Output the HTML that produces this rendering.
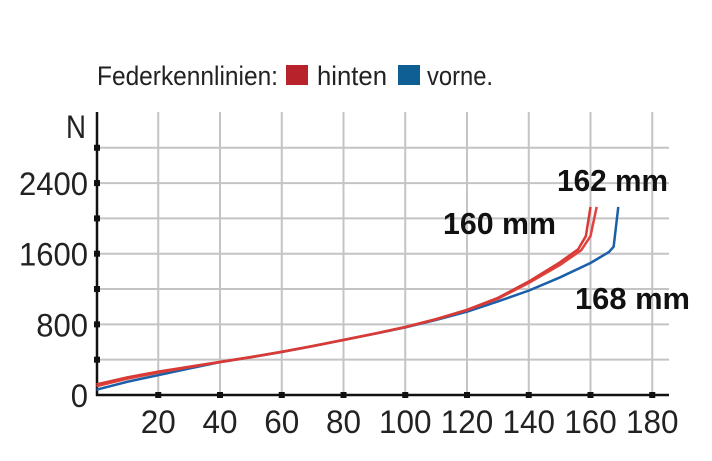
<!DOCTYPE html>
<html><head><meta charset="utf-8"><style>
body{margin:0;background:#fff;}
svg text{font-family:"Liberation Sans Narrow","Liberation Sans",sans-serif;}
</style></head><body>
<svg id="chart" width="712" height="456" viewBox="0 0 712 456" xmlns="http://www.w3.org/2000/svg">
<g>
<text x="97" y="85" font-size="27" fill="#222" textLength="181" lengthAdjust="spacingAndGlyphs">Federkennlinien:</text>
<rect x="286" y="65" width="22" height="20" fill="#b8232b"/>
<text x="317" y="85" font-size="27" fill="#222" textLength="70" lengthAdjust="spacingAndGlyphs">hinten</text>
<rect x="398" y="65" width="22" height="20" fill="#0f5f94"/>
<text x="427" y="85" font-size="27" fill="#222" textLength="66" lengthAdjust="spacingAndGlyphs">vorne.</text>
</g>
<g id="grid"></g>
<g id="axes"></g>
<g id="series"></g>
<text x="557" y="191" font-size="31" font-weight="bold" fill="#111" textLength="111" lengthAdjust="spacingAndGlyphs">162 mm</text>
<text x="443" y="234" font-size="31" font-weight="bold" fill="#111" textLength="113" lengthAdjust="spacingAndGlyphs">160 mm</text>
<text x="575" y="309" font-size="31" font-weight="bold" fill="#111" textLength="115" lengthAdjust="spacingAndGlyphs">168 mm</text>
</svg>
<script>
const xTicks=[20,40,60,80,100,120,140,160,180];
const yTickLabels=[0,800,1600,2400];
const yGrid=[400,800,1200,1600,2000,2400,2800];
const hintenA_x=[0,10,20,30,40,50,60,70,80,90,100,110,120,130,140,150,156,158.5,160];
const hintenA_y=[120,200,265,320,375,430,490,555,625,695,770,860,965,1100,1285,1500,1650,1800,2130];
const hintenB_x=[0,10,20,30,40,50,60,70,80,90,100,110,120,130,140,150,157,160,162];
const hintenB_y=[100,185,255,315,372,428,488,553,622,693,768,858,960,1090,1270,1470,1640,1800,2130];
const vorne_x=[0,10,20,30,40,50,60,70,80,90,100,110,120,130,140,150,160,166,167.5,169];
const vorne_y=[60,150,225,300,372,428,487,553,623,693,765,850,944,1060,1182,1330,1495,1620,1680,2130];
const X=v=>96.5+v*3.0875, Y=v=>395-v*0.0883;
const NS="http://www.w3.org/2000/svg";
function mk(tag,attrs,parent){const e=document.createElementNS(NS,tag);for(const k in attrs)e.setAttribute(k,attrs[k]);parent.appendChild(e);return e;}
const grid=document.getElementById('grid'),axes=document.getElementById('axes'),series=document.getElementById('series');
xTicks.forEach(t=>{const l=mk('line',{x1:X(t),x2:X(t),y1:112,y2:395,stroke:'#c4c4c4','stroke-width':2},grid);
});
yGrid.forEach(t=>{const l=mk('line',{x1:97,x2:669,y1:Y(t),y2:Y(t),stroke:'#c4c4c4','stroke-width':2},grid);
});
const ya=mk('line',{x1:97,x2:97,y1:112,y2:396,stroke:'#111','stroke-width':2.5},axes);

const xa=mk('line',{x1:96,x2:669,y1:395,y2:395,stroke:'#111','stroke-width':2.5},axes);

yGrid.forEach(t=>{const r=mk('rect',{x:94,y:Y(t)-3,width:6,height:6,fill:'#111'},axes);
});
xTicks.forEach(t=>{const r=mk('rect',{x:X(t)-3,y:392,width:6,height:6,fill:'#111'},axes);

const s=String(t);
const tx=mk('text',{x:X(t),y:433,'font-size':32,fill:'#222','text-anchor':'middle',textLength:s.length*17.5,lengthAdjust:'spacingAndGlyphs'},axes);tx.textContent=s;
});
yTickLabels.forEach(t=>{const s=String(t);
const tx=mk('text',{x:88-s.length*17.25,y:Y(t)+12,'font-size':32,fill:'#222',textLength:s.length*17.25,lengthAdjust:'spacingAndGlyphs'},axes);tx.textContent=s;
});
const n=mk('text',{x:66,y:138,'font-size':32,fill:'#222',textLength:20,lengthAdjust:'spacingAndGlyphs'},axes);n.textContent='N';

function line(xs,ys,col,name){const p=mk('polyline',{points:xs.map((x,i)=>X(x)+','+Y(ys[i])).join(' '),fill:'none',stroke:col,'stroke-width':2.5,'stroke-linejoin':'round'},series);
}
line(vorne_x,vorne_y,'#1a5fa8','series-vorne-168mm');
line(hintenB_x,hintenB_y,'#e0423e','series-hinten-162mm');
line(hintenA_x,hintenA_y,'#d83a36','series-hinten-160mm');
</script>
</body></html>
